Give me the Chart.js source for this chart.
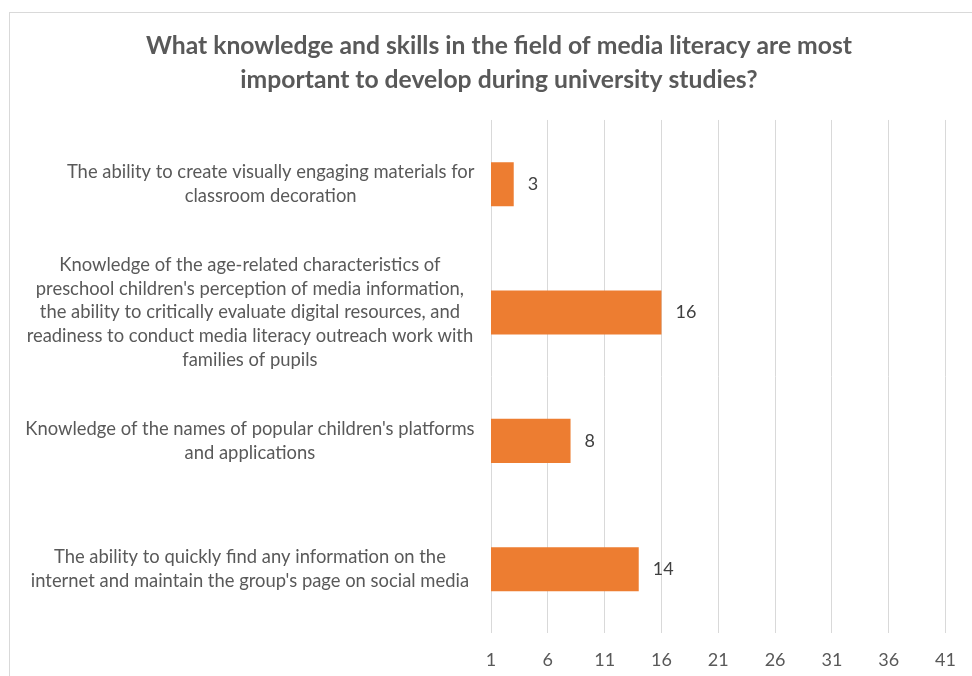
<!DOCTYPE html>
<html>
<head>
<meta charset="utf-8">
<script src="https://cdn.jsdelivr.net/npm/chart.js@4"></script>
<style>
  html, body {
    margin: 0;
    padding: 0;
    background: #ffffff;
    overflow: hidden;
  }
  #frame {
    position: absolute;
    left: 9px;
    top: 12px;
    width: 1000px;
    height: 700px;
    border-left: 1px solid #d9d9d9;
    border-top: 1px solid #d9d9d9;
  }
  #wrap {
    position: absolute;
    left: 0;
    top: 0;
    width: 972px;
    height: 687px;
  }
</style>
</head>
<body>
<div id="frame"></div>
<div id="wrap"><canvas id="skillsChart" width="972" height="687"></canvas></div>
<script>
  "use strict";

  var titleLines = [
    "What knowledge and skills in the field of media literacy are most",
    "important to develop during university studies?",
  ];

  // first label's wrap box sits a little to the right of the others
  var INDENT = "\u2002\u2002\u2002\u2002 ";

  var categories = [
    [
      INDENT + "The ability to create visually engaging materials for",
      INDENT + "classroom decoration",
    ],
    [
      "Knowledge of the age-related characteristics of",
      "preschool children's perception of media information,",
      "the ability to critically evaluate digital resources, and",
      "readiness to conduct media literacy outreach work with",
      "families of pupils",
    ],
    ["Knowledge of the names of popular children's platforms", "and applications"],
    ["The ability to quickly find any information on the", "internet and maintain the group's page on social media"],
  ];

  var responses = [3, 16, 8, 14];

  var axisMin = 1;
  var axisMax = 41;
  var axisStep = 5;

  var FONT = "Lato, 'Open Sans', sans-serif";

  // writes the value just past the end of each bar
  var valueLabels = {
    id: "valueLabels",
    afterDatasetsDraw: function (chart) {
      var ctx = chart.ctx;
      var meta = chart.getDatasetMeta(0);
      ctx.save();
      ctx.font = "18px " + FONT;
      ctx.fillStyle = "#404040";
      ctx.textAlign = "left";
      ctx.textBaseline = "middle";
      meta.data.forEach(function (bar, i) {
        ctx.fillText(String(responses[i]), bar.x + 14, bar.y);
      });
      ctx.restore();
    },
  };

  // centre the title over the whole frame rather than over the padded box
  var titleShift = {
    id: "titleShift",
    afterLayout: function (chart) {
      if (chart.titleBlock) {
        chart.titleBlock.left += 32;
      }
    },
  };

  var ctx = document.getElementById("skillsChart").getContext("2d");

  new Chart(ctx, {
    type: "bar",
    data: {
      labels: categories,
      datasets: [
        {
          label: "Responses",
          data: responses,
          backgroundColor: "#ed7d31",
          borderWidth: 0,
          categoryPercentage: 1,
          barPercentage: 0.343,
        },
      ],
    },
    options: {
      indexAxis: "y",
      responsive: false,
      animation: false,
      layout: {
        padding: { left: 15, right: 21, top: 0, bottom: 0 },
      },
      plugins: {
        legend: { display: false },
        tooltip: { enabled: false },
        title: {
          display: true,
          text: titleLines,
          color: "#595959",
          font: { family: FONT, size: 24.7, weight: "bold", lineHeight: 1.376 },
          padding: { top: 29, bottom: 23 },
        },
      },
      scales: {
        x: {
          min: axisMin,
          max: axisMax,
          border: { display: false },
          grid: { color: "#d9d9d9", lineWidth: 1, drawTicks: false },
          ticks: {
            stepSize: axisStep,
            padding: 16,
            color: "#595959",
            font: { family: FONT, size: 18 },
          },
        },
        y: {
          border: { display: false },
          grid: { display: false, drawTicks: false },
          afterFit: function (scale) {
            scale.width = 476;
          },
          ticks: {
            crossAlign: "center",
            padding: 16.5,
            color: "#595959",
            font: { family: FONT, size: 18.4, lineHeight: 1.3 },
          },
        },
      },
    },
    plugins: [valueLabels, titleShift],
  });
</script>
</body>
</html>
